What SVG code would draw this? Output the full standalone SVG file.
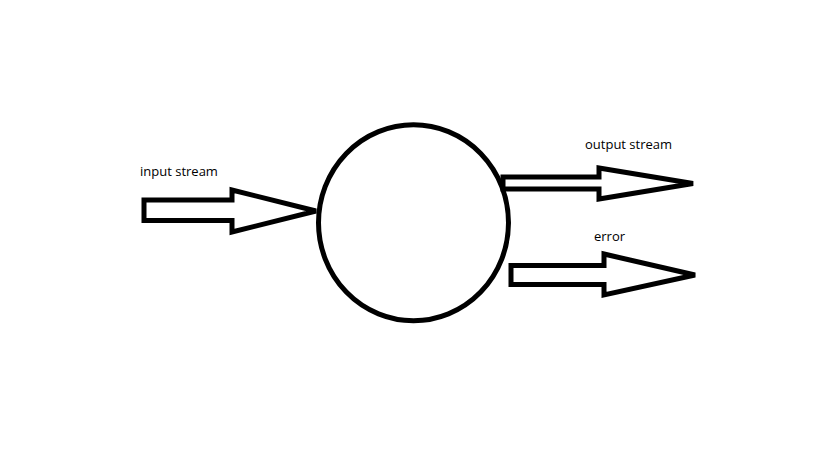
<svg xmlns="http://www.w3.org/2000/svg" width="819" height="460" viewBox="0 0 819 460">
<style>
.s{fill:none;stroke:#000;stroke-width:5;stroke-linejoin:miter}
.t{font-family:"Open Sans","Noto Sans",sans-serif;font-size:13px;fill:#000}
</style>
<rect width="819" height="460" fill="#fff"/>
<g id="process">
<ellipse class="s" cx="413.5" cy="222.7" rx="95" ry="98"/>
</g>
<g id="connectors">
<g id="input">
<polygon class="s" points="144,200 232,200 232,190 316,211 232,232 232,220.5 144,220.5"/>
<text class="t" x="140" y="176">input stream</text>
</g>
<g id="output">
<polygon class="s" points="503,177 599,177 599,168 693,183.5 599,199 599,189 503,189"/>
<text class="t" x="585" y="148.5">output stream</text>
</g>
<g id="error">
<polygon class="s" points="511,265.5 604,265.5 604,254 695,275 604,295 604,284.5 511,284.5"/>
<text class="t" x="594" y="240.5">error</text>
</g>
</g>
</svg>
